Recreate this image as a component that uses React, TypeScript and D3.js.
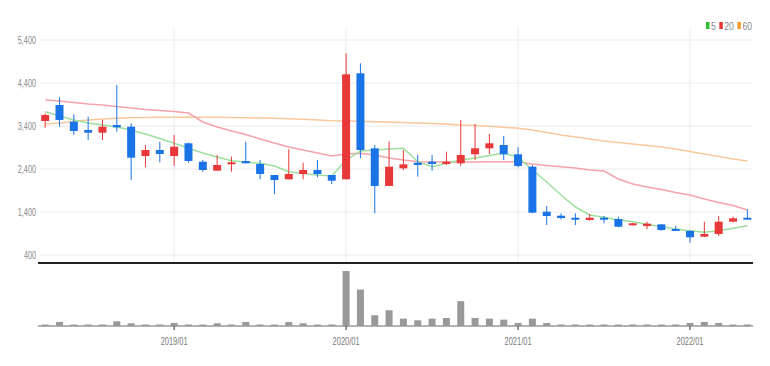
import React from "react";
import * as d3 from "d3";

const months = [
  "2018/04","2018/05","2018/06","2018/07","2018/08","2018/09","2018/10","2018/11","2018/12",
  "2019/01","2019/02","2019/03","2019/04","2019/05","2019/06","2019/07","2019/08","2019/09","2019/10","2019/11","2019/12",
  "2020/01","2020/02","2020/03","2020/04","2020/05","2020/06","2020/07","2020/08","2020/09","2020/10","2020/11","2020/12",
  "2021/01","2021/02","2021/03","2021/04","2021/05","2021/06","2021/07","2021/08","2021/09","2021/10","2021/11","2021/12",
  "2022/01","2022/02","2022/03","2022/04","2022/05",
];

const openP = [3516,3888,3500,3307,3244,3423,3384,2702,2842,2702,2998,2570,2361,2516,2586,2516,2260,2160,2284,2377,2260,2160,4626,2881,2005,2416,2547,2570,2516,2532,2742,2881,2958,2742,2454,1407,1314,1267,1214,1267,1237,1090,1074,1113,1005,958,826,888,1175,1267];
const highP = [3695,4067,3672,3616,3540,4353,3463,2958,3035,3191,3012,2609,2726,2686,3035,2609,2260,2858,2547,2609,2260,5091,4858,2958,3035,2842,2726,2726,2802,3540,3447,3214,3167,2905,2493,1540,1370,1370,1353,1307,1291,1144,1175,1113,1074,981,1175,1307,1291,1463];
const lowP = [3360,3384,3191,3074,3074,3267,2144,2440,2556,2470,2547,2337,2361,2337,2532,2160,1812,2160,2160,2207,2051,2160,2649,1370,2005,2377,2221,2361,2493,2470,2609,2749,2609,2440,1370,1098,1230,1098,1198,1137,1044,1084,998,966,958,686,812,842,1160,1230];
const closeP = [3656,3540,3284,3244,3384,3370,2663,2842,2749,2919,2586,2377,2493,2556,2532,2284,2144,2284,2377,2284,2128,4602,2842,2005,2454,2509,2493,2516,2570,2726,2881,2998,2742,2470,1384,1307,1260,1230,1267,1230,1058,1137,1129,981,965,812,888,1175,1253,1230];

const ma5 = [3733,3633,3540,3470,3423,3377,3307,3214,3109,2998,2881,2772,2679,2593,2563,2533,2470,2337,2295,2260,2237,2609,2819,2842,2865,2881,2570,2453,2533,2609,2656,2714,2765,2679,2377,2098,1795,1516,1330,1277,1214,1174,1114,1058,1005,965,928,965,1021,1081];
const ma20 = [4005,3981,3947,3912,3888,3853,3819,3784,3760,3737,3702,3493,3377,3284,3202,3098,3005,2912,2842,2772,2702,2749,2765,2726,2656,2609,2570,2563,2563,2563,2563,2570,2570,2563,2516,2481,2453,2423,2377,2353,2167,2051,1981,1923,1853,1795,1702,1621,1551,1447];
const ma60 = [3447,3470,3505,3540,3563,3579,3593,3598,3602,3605,3605,3602,3602,3598,3593,3586,3579,3570,3556,3540,3523,3516,3509,3500,3493,3481,3470,3458,3447,3423,3412,3393,3370,3347,3307,3249,3191,3144,3098,3051,3016,2981,2947,2912,2865,2807,2749,2691,2633,2586];

const volume = [10,40,10,10,10,47,27,10,10,30,10,5,27,10,40,10,5,40,27,10,5,547,363,107,157,73,57,73,80,247,80,73,63,30,73,30,10,10,10,10,10,5,5,5,5,30,40,30,10,10];

const yTicks = [400, 1400, 2400, 3400, 4400, 5400];
const xTickLabels = ["2019/01", "2020/01", "2021/01", "2022/01"];

const legendItems = [
  { label: "5", color: "#2fbf2f" },
  { label: "20", color: "#ee3535" },
  { label: "60", color: "#f29a2e" },
];

const FONT = "'Liberation Sans', Arial, sans-serif";
const UP = "#e8383a";
const DOWN = "#1a74e8";

// approximate condensed text width
const tw = (s: string, d = 4) => s.split("").reduce((a, ch) => a + (/[0-9]/.test(ch) ? d : 2.2), 0);

export default function App() {
  const W = 770, H = 366;
  const left = 38, right = 754.5;
  const x = d3.scaleBand<number>().domain(months.map((_, i) => i)).range([left, right]).padding(0);
  const cx = (i: number) => (x(i) as number) + x.bandwidth() / 2;
  const y = d3.scaleLinear().domain([400, 5400]).range([255, 40]);
  const volTop = 271, volBase = 326;
  const yv = d3.scaleLinear().domain([0, d3.max(volume) as number]).range([volBase, volTop]);
  const candleW = 8;
  const volW = 7;

  const lineGen = (arr: number[]) =>
    d3.line<number>().x((_, i) => cx(i)).y((d) => y(d))(arr) || "";

  let lx = 706;
  const legendPos = legendItems.map((it) => {
    const p = { ...it, x: lx, w: tw(it.label, 4.8) };
    lx += 5 + p.w + 3.5;
    return p;
  });

  return (
    <svg width={W} height={H} style={{ position: "absolute", left: 0, top: 0, background: "#fff" }} fontFamily={FONT}>
      {yTicks.map((t) => {
        const lab = d3.format(",")(t);
        return (
          <g key={t}>
            <line x1={40} x2={752} y1={y(t)} y2={y(t)} stroke="#ececec" strokeWidth={1} />
            <text x={36 - tw(lab)} y={y(t) + 3.5} fontSize={10.5} fill="#888"
              textLength={tw(lab)} lengthAdjust="spacingAndGlyphs">
              {lab}
            </text>
          </g>
        );
      })}
      {xTickLabels.map((lab) => {
        const i = months.indexOf(lab);
        return <line key={lab} x1={cx(i)} x2={cx(i)} y1={28} y2={262} stroke="#ececec" strokeWidth={1} />;
      })}
      <path d={lineGen(ma60)} fill="none" stroke="#f8c89a" strokeWidth={1.5} />
      <path d={lineGen(ma20)} fill="none" stroke="#f5a3ab" strokeWidth={1.5} />
      <path d={lineGen(ma5)} fill="none" stroke="#9ddf9d" strokeWidth={1.5} />
      {months.map((m, i) => {
        const o = openP[i], c = closeP[i], h = highP[i], l = lowP[i];
        const up = c >= o;
        const col = up ? UP : DOWN;
        const top = y(Math.max(o, c));
        const bot = y(Math.min(o, c));
        const bh = Math.max(2, bot - top);
        return (
          <g key={m}>
            <line x1={cx(i)} x2={cx(i)} y1={y(h)} y2={y(l)} stroke={col} strokeWidth={1} />
            <rect x={cx(i) - candleW / 2} y={top} width={candleW} height={bh} fill={col} />
          </g>
        );
      })}
      <line x1={38} x2={753} y1={263} y2={263} stroke="#222" strokeWidth={2} />
      <line x1={38} x2={753} y1={volBase} y2={volBase} stroke="#9a9a9a" strokeWidth={1.5} />
      {volume.map((v, i) => {
        const top = yv(v);
        const hh = Math.max(1.5, volBase - top);
        return <rect key={i} x={cx(i) - volW / 2} y={volBase - hh} width={volW} height={hh} fill="#999" />;
      })}
      {xTickLabels.map((lab) => {
        const i = months.indexOf(lab);
        const w = 27;
        return (
          <g key={lab}>
            <line x1={cx(i)} x2={cx(i)} y1={volBase} y2={volBase + 4} stroke="#333" strokeWidth={1} />
            <text x={cx(i) - w / 2} y={345} fontSize={10.5} fill="#7a7a7a"
              textLength={w} lengthAdjust="spacingAndGlyphs">
              {lab}
            </text>
          </g>
        );
      })}
      {legendPos.map((it) => (
        <g key={it.label}>
          <rect x={it.x} y={22} width={3.5} height={7} fill={it.color} />
          <text x={it.x + 5} y={29.5} fontSize={11} fill="#888"
            textLength={it.w} lengthAdjust="spacingAndGlyphs">
            {it.label}
          </text>
        </g>
      ))}
    </svg>
  );
}
